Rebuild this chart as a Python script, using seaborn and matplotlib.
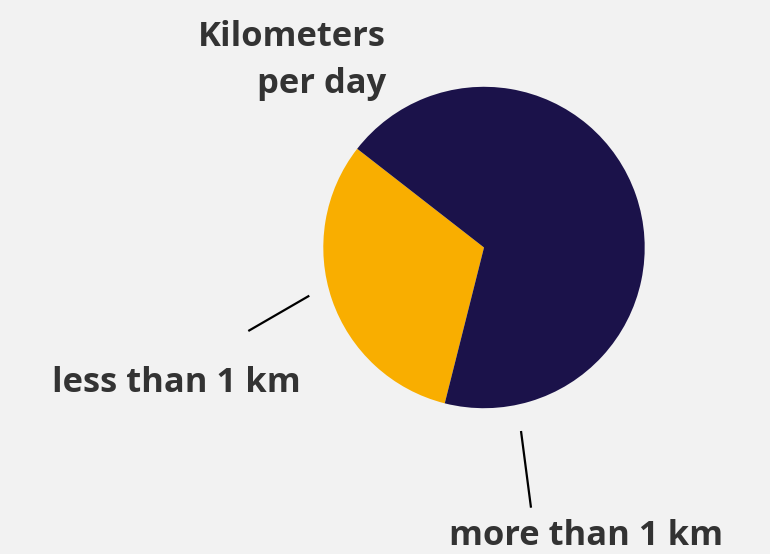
import matplotlib
matplotlib.use("Agg")
import matplotlib.pyplot as plt
import seaborn as sns

# Data
categories = ["less than 1 km", "more than 1 km"]
shares = [31.6, 68.4]
colors = ["#F9AE00", "#1B124A"]
title_lines = ["Kilometers", "per day"]

sns.set_theme(style="white")
plt.rcParams["font.family"] = ["Open Sans", "DejaVu Sans"]

W, H = 770, 554
BG = "#F2F2F2"
TXT = "#333333"

fig = plt.figure(figsize=(W / 100, H / 100), dpi=100, facecolor=BG)
ax = fig.add_axes([0, 0, 1, 1])
ax.set_facecolor(BG)

def Y(y):
    return H - y

ax.pie(shares, colors=colors, startangle=142.1, counterclock=True,
       center=(484, Y(247.5)), radius=160.7, frame=True,
       wedgeprops=dict(linewidth=0))
ax.set_xlim(0, W)
ax.set_ylim(0, H)
ax.set_aspect("equal")
ax.axis("off")

fs = 24.8
ax.text(386, Y(46), title_lines[0], ha="right", va="baseline",
        fontsize=fs, fontweight="bold", color=TXT)
ax.text(386, Y(93), title_lines[1], ha="right", va="baseline",
        fontsize=fs, fontweight="bold", color=TXT)

ax.text(52, Y(391.5), categories[0], ha="left", va="baseline",
        fontsize=fs, fontweight="bold", color=TXT)
ax.text(449, Y(545), categories[1], ha="left", va="baseline",
        fontsize=fs, fontweight="bold", color=TXT)

ax.plot([248.3, 309.3], [Y(331), Y(295.7)], color="black", lw=1.6,
        solid_capstyle="butt")
ax.plot([521, 531], [Y(431), Y(507.7)], color="black", lw=1.6,
        solid_capstyle="butt")

fig.savefig("out.png", dpi=100, facecolor=BG)
